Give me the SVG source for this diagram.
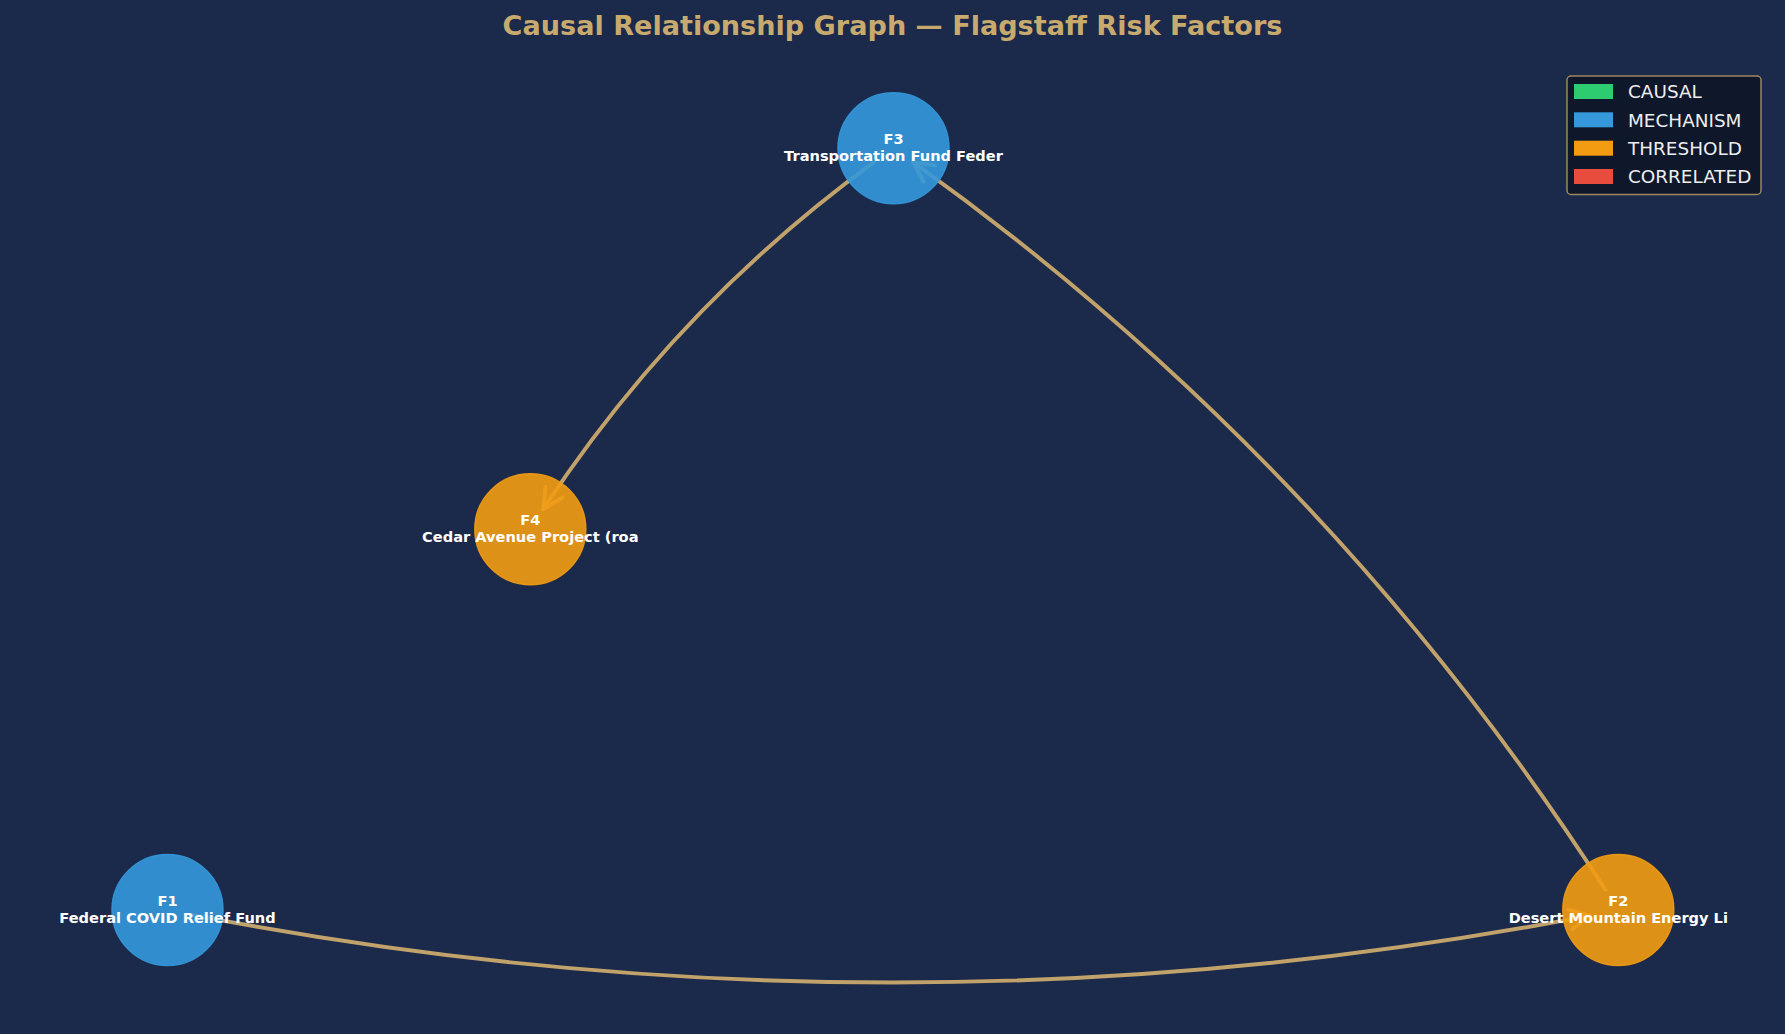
<svg xmlns="http://www.w3.org/2000/svg" width="1785" height="1034" viewBox="0 0 1785 1034">
<defs>
<style>
.bg{fill:#1b2a4a}
.title{font-family:"DejaVu Sans","Liberation Sans",sans-serif;font-weight:bold;font-size:27.1px;fill:#c8a96e;text-anchor:middle}
.edge{fill:none;stroke:#caa96d;stroke-width:3.9;stroke-opacity:0.95;stroke-linecap:round;stroke-linejoin:round}
.mech{fill:#3498db;fill-opacity:0.9;stroke:#3498db;stroke-opacity:0.9;stroke-width:1.5}
.thr{fill:#f39c12;fill-opacity:0.9;stroke:#f39c12;stroke-opacity:0.9;stroke-width:1.5}
.lbl{font-family:"DejaVu Sans","Liberation Sans",sans-serif;font-weight:bold;font-size:14.6px;fill:#ffffff;text-anchor:middle}
.leg{font-family:"DejaVu Sans","Liberation Sans",sans-serif;font-size:18.4px;fill:#eeeeee}
</style>
</defs>
<rect class="bg" x="0" y="0" width="1785" height="1034"/>
<text class="title" x="892.5" y="35">Causal Relationship Graph — Flagstaff Risk Factors</text>

<g id="connectors">
<g id="edge-F1-F2">
<path class="edge" d="M191,914.6 Q890.4,1050 1589.9,915.6"/>
<path class="edge" d="M1568.3,909.7 L1589.9,915.6 L1572.3,929.3"/>
</g>
<g id="edge-F2-F3">
<path class="edge" d="M1605.4,889.8 Q1328.8,459.8 913.1,162.1"/>
<path class="edge" d="M935.2,165.4 L913.1,162.1 L923.7,181.8"/>
</g>
<g id="edge-F3-F4">
<path class="edge" d="M874,162.1 Q677,305.5 543.3,509.1"/>
<path class="edge" d="M562.4,497.5 L543.3,509.1 L545.5,486.9"/>
</g>
</g>

<g id="node-F1">
<circle class="mech" cx="167.5" cy="910" r="55.5"/>
<text class="lbl" x="167.5" y="905.5">F1</text>
<text class="lbl" x="167.5" y="923">Federal COVID Relief Fund</text>
</g>
<g id="node-F2">
<circle class="thr" cx="1618.3" cy="910" r="55.5"/>
<text class="lbl" x="1618.3" y="905.5">F2</text>
<text class="lbl" x="1618.3" y="923">Desert Mountain Energy Li</text>
</g>
<g id="node-F3">
<circle class="mech" cx="893.5" cy="148.2" r="55.5"/>
<text class="lbl" x="893.5" y="143.7">F3</text>
<text class="lbl" x="893.5" y="161.2">Transportation Fund Feder</text>
</g>
<g id="node-F4">
<circle class="thr" cx="530.3" cy="529.2" r="55.5"/>
<text class="lbl" x="530.3" y="524.7">F4</text>
<text class="lbl" x="530.3" y="542.2">Cedar Avenue Project (roa</text>
</g>

<g id="legend">
<rect x="1567" y="76" width="194" height="118.5" rx="4" fill="#0f1628" fill-opacity="0.95" stroke="#c8a96e" stroke-opacity="0.75" stroke-width="1.5"/>
<rect x="1574" y="84" width="39" height="15" fill="#2ecc71"/>
<text class="leg" x="1628" y="98.3">CAUSAL</text>
<rect x="1574" y="112.3" width="39" height="15" fill="#3498db"/>
<text class="leg" x="1628" y="126.6">MECHANISM</text>
<rect x="1574" y="140.7" width="39" height="15" fill="#f39c12"/>
<text class="leg" x="1628" y="155">THRESHOLD</text>
<rect x="1574" y="169" width="39" height="15" fill="#e74c3c"/>
<text class="leg" x="1628" y="183.3">CORRELATED</text>
</g>
</svg>
